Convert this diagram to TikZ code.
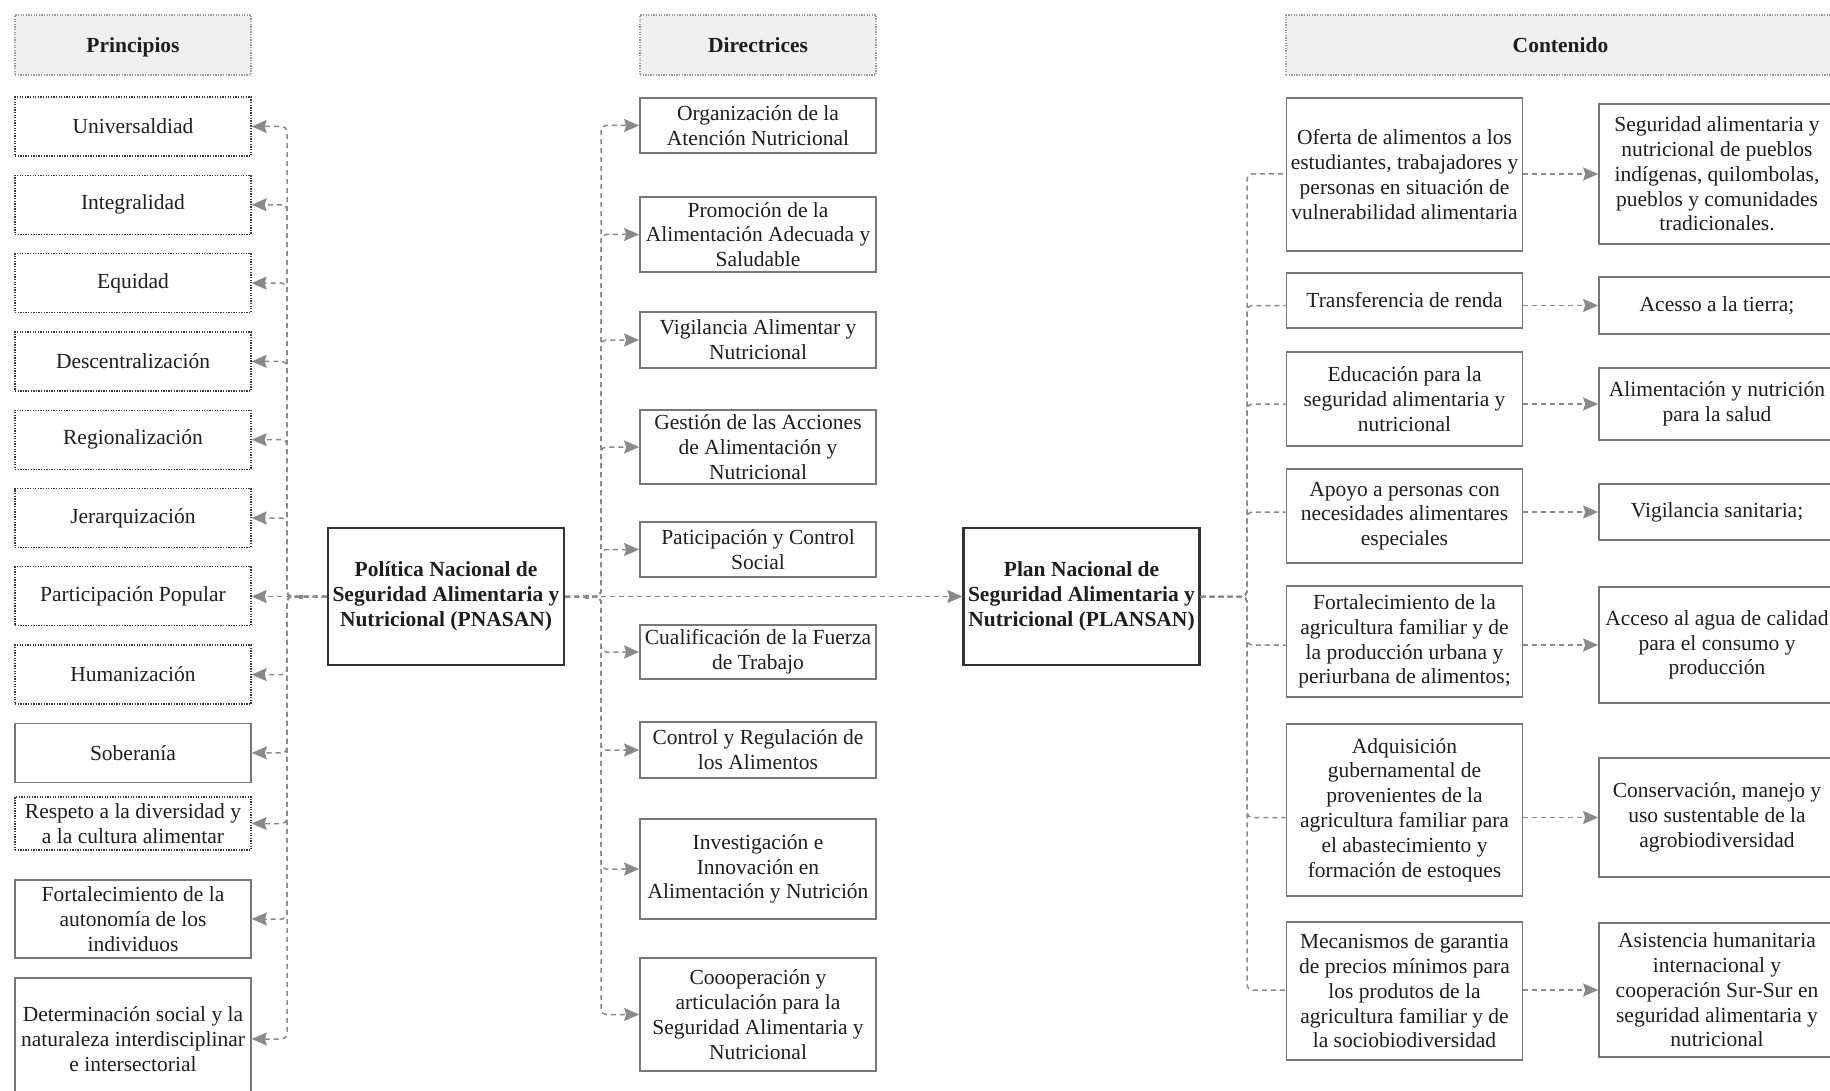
\documentclass[tikz,border=0pt]{standalone}
\usepackage{fontspec}
\setmainfont{Liberation Serif}
\usetikzlibrary{arrows.meta}
\definecolor{ink}{HTML}{1E1E1E}
\definecolor{edgecol}{HTML}{777777}
\definecolor{dotedge}{HTML}{3A3A3A}
\definecolor{hdredge}{HTML}{9A9A9A}
\definecolor{hdrfill}{HTML}{F0F0F0}
\definecolor{linkcol}{HTML}{8A8A8A}
\definecolor{mainedge}{HTML}{333333}
\tikzset{
  box/.style={rectangle, minimum width=236pt, inner sep=0pt, align=center,
    text=ink, font=\fontsize{21.5}{24.8}\selectfont},
  solidbox/.style={box, draw=edgecol, line width=1.7pt},
  dotbox/.style={box, draw=dotedge, line width=1.3pt, dash pattern=on 1.3pt off 1.3pt},
  hdrbox/.style={box, draw=hdredge, fill=hdrfill, line width=1.3pt,
    dash pattern=on 1.3pt off 1.3pt, minimum height=60pt, text depth=0pt,
    font=\fontsize{21.5}{24.8}\selectfont\bfseries},
  mainbox/.style={box, draw=mainedge, line width=2.2pt, minimum height=137pt,
    font=\fontsize{21.5}{24.8}\selectfont\bfseries},
  link/.style={draw=linkcol, line width=1.5pt, dash pattern=on 5pt off 4pt, rounded corners=5pt},
  tip/.style={link, -{Stealth[length=15pt,width=13pt,inset=2pt,fill=linkcol]}}
}
\begin{document}
\begin{tikzpicture}[x=1pt,y=-1pt]
\useasboundingbox (0,0) rectangle (1830,1091);
\fill[white] (0,0) rectangle (1830,1091);

% column headers
\node[hdrbox] (hp) at (133,45) {Principios};
\node[hdrbox] (hd) at (758,45) {Directrices};
\node[hdrbox, minimum width=549pt] (hc) at (1560.5,45) {Contenido};

% principles
\node[dotbox, minimum height=59pt] (p1) at (133,126.5) {Universaldiad};
\node[dotbox, minimum height=59pt] (p2) at (133,204.8) {Integralidad};
\node[dotbox, minimum height=59pt] (p3) at (133,283.1) {Equidad};
\node[dotbox, minimum height=59pt] (p4) at (133,361.4) {Descentralización};
\node[dotbox, minimum height=59pt] (p5) at (133,439.7) {Regionalización};
\node[dotbox, minimum height=59pt] (p6) at (133,518) {Jerarquización};
\node[dotbox, minimum height=59pt] (p7) at (133,596.3) {Participación Popular};
\node[dotbox, minimum height=59pt] (p8) at (133,674.6) {Humanización};
\node[solidbox, minimum height=59pt] (p9) at (133,752.9) {Soberanía};
\node[dotbox, minimum height=53pt] (p10) at (133,823.5) {Respeto a la diversidad y\\a la cultura alimentar};
\node[solidbox, minimum height=78pt] (p11) at (133,919) {Fortalecimiento de la\\autonomía de los\\individuos};
\node[solidbox, minimum height=122pt] (p12) at (133,1039) {Determinación social y la\\naturaleza interdisciplinar\\e intersectorial};

% central policy and plan
\node[mainbox] (pn) at (446,596.5) {Política Nacional de\\Seguridad Alimentaria y\\Nutricional (PNASAN)};
\node[mainbox] (pl) at (1081.5,596.5) {Plan Nacional de\\Seguridad Alimentaria y\\Nutricional (PLANSAN)};

% guidelines
\node[solidbox, minimum height=55pt] (d1) at (758,125.5) {Organización de la\\Atención Nutricional};
\node[solidbox, minimum height=75pt] (d2) at (758,234.5) {Promoción de la\\Alimentación Adecuada y\\Saludable};
\node[solidbox, minimum height=56pt] (d3) at (758,340) {Vigilancia Alimentar y\\Nutricional};
\node[solidbox, minimum height=74pt] (d4) at (758,447) {Gestión de las Acciones\\de Alimentación y\\Nutricional};
\node[solidbox, minimum height=55pt] (d5) at (758,549.5) {Paticipación y Control\\Social};
\node[solidbox, minimum height=54pt] (d6) at (758,652) {Cualificación de la Fuerza\\de Trabajo};
\node[solidbox, minimum height=56pt] (d7) at (758,750) {Control y Regulación de\\los Alimentos};
\node[solidbox, minimum height=100pt] (d8) at (758,869) {Investigación e\\Innovación en\\Alimentación y Nutrición};
\node[solidbox, minimum height=113pt] (d9) at (758,1014.5) {Coooperación y\\articulación para la\\Seguridad Alimentaria y\\Nutricional};

% plan contents, first column
\node[solidbox, minimum height=153pt] (c1) at (1404.5,174.5) {Oferta de alimentos a los\\estudiantes, trabajadores y\\personas en situación de\\vulnerabilidad alimentaria};
\node[solidbox, minimum height=55pt] (c2) at (1404.5,300.5) {Transferencia de renda};
\node[solidbox, minimum height=94pt] (c3) at (1404.5,399) {Educación para la\\seguridad alimentaria y\\nutricional};
\node[solidbox, minimum height=94pt] (c4) at (1404.5,516) {Apoyo a personas con\\necesidades alimentares\\especiales};
\node[solidbox, minimum height=111pt] (c5) at (1404.5,641.5) {Fortalecimiento de la\\agricultura familiar y de\\la producción urbana y\\periurbana de alimentos;};
\node[solidbox, minimum height=172pt] (c6) at (1404.5,810) {Adquisición\\gubernamental de\\provenientes de la\\agricultura familiar para\\el abastecimiento y\\formación de estoques};
\node[solidbox, minimum height=138pt] (c7) at (1404.5,991) {Mecanismos de garantia\\de precios mínimos para\\los produtos de la\\agricultura familiar y de\\la sociobiodiversidad};

% plan contents, second column
\node[solidbox, minimum height=140pt] (r1) at (1717,174) {Seguridad alimentaria y\\nutricional de pueblos\\indígenas, quilombolas,\\pueblos y comunidades\\tradicionales.};
\node[solidbox, minimum height=57pt] (r2) at (1717,305.5) {Acesso a la tierra;};
\node[solidbox, minimum height=72pt] (r3) at (1717,404) {Alimentación y nutrición\\para la salud};
\node[solidbox, minimum height=56pt] (r4) at (1717,512) {Vigilancia sanitaria;};
\node[solidbox, minimum height=116pt] (r5) at (1717,645) {Acceso al agua de calidad\\para el consumo y\\producción};
\node[solidbox, minimum height=119pt] (r6) at (1717,817.5) {Conservación, manejo y\\uso sustentable de la\\agrobiodiversidad};
\node[solidbox, minimum height=134pt] (r7) at (1717,990) {Asistencia humanitaria\\internacional y\\cooperación Sur-Sur en\\seguridad alimentaria y\\nutricional};

% distribution buses
\coordinate (lbus) at (287,596.5);
\coordinate (dbus) at (601,596.5);
\coordinate (cbus) at (1247,596.5);

% policy -> principles
\foreach \p in {p1,p2,p3,p4,p5,p6,p8,p9,p10,p11,p12}
  \draw[tip] (pn.west) -- (lbus) |- (\p.east);
\draw[tip] (pn.west) -- (pn.west -| p7.east);

% policy -> guidelines
\foreach \d in {d1,d2,d3,d4,d5,d6,d7,d8,d9}
  \draw[tip] (pn.east) -- (dbus) |- (\d.west);

% policy -> plan
\draw[tip] (pn.east) -- (pl.west);

% plan -> contents
\foreach \c/\r in {c1/r1,c2/r2,c3/r3,c4/r4,c5/r5,c6/r6,c7/r7}{
  \draw[link] (pl.east) -- (cbus) |- (\c.west |- \r.west);
  \draw[tip] (\c.east |- \r.west) -- (\r.west);
}

% junction marks on the main line
\fill[linkcol] (299,594.5) rectangle (303,598.5);
\fill[linkcol] (585,594.5) rectangle (589,598.5);
\end{tikzpicture}
\end{document}
